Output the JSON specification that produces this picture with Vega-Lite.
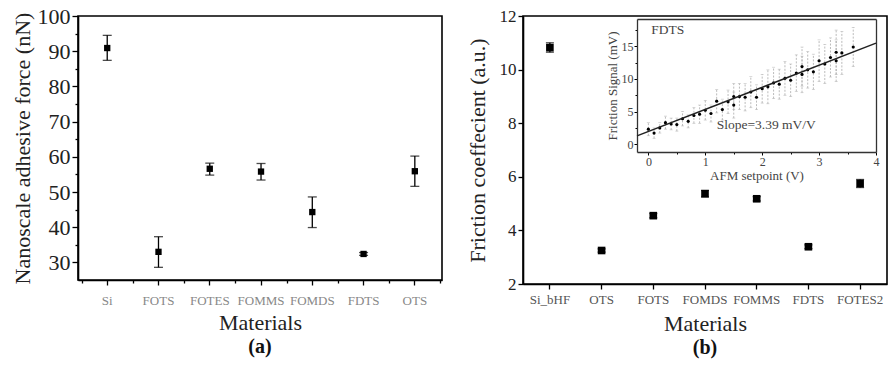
{
  "$schema": "https://vega.github.io/schema/vega-lite/v6.json",
  "padding": {"left": 10, "top": 4, "right": 0, "bottom": 0},
  "bounds": "flush",
  "spacing": 81,
  "background": "white",
  "config": {
    "view": {"stroke": "black", "strokeWidth": 1.6},
    "font": "Liberation Serif",
    "axis": {"domainColor": "black", "domainWidth": 1.6, "tickColor": "black", "tickWidth": 1.3, "grid": false, "labelFont": "Liberation Serif", "titleFont": "Liberation Serif", "titleFontWeight": "normal", "titleColor": "#222", "labelColor": "#222", "labelOverlap": false, "labelBound": false, "labelFlush": false},
    "title": {"font": "Liberation Serif"}
  },
  "datasets": {
    "adhesion": [
      {"material": "Si", "force": 90.9, "lo": 87.4, "hi": 94.5},
      {"material": "FOTS", "force": 33.0, "lo": 28.6, "hi": 37.3},
      {"material": "FOTES", "force": 56.6, "lo": 54.8, "hi": 58.2},
      {"material": "FOMMS", "force": 55.8, "lo": 53.4, "hi": 58.1},
      {"material": "FOMDS", "force": 44.3, "lo": 39.9, "hi": 48.6},
      {"material": "FDTS", "force": 32.4, "lo": 32.0, "hi": 32.8},
      {"material": "OTS", "force": 55.9, "lo": 51.6, "hi": 60.2}
    ],
    "friction": [
      {"material": "Si_bHF", "coef": 10.82, "lo": 10.65, "hi": 11.0},
      {"material": "OTS", "coef": 3.25, "lo": 3.19, "hi": 3.31},
      {"material": "FOTS", "coef": 4.55, "lo": 4.47, "hi": 4.63},
      {"material": "FOMDS", "coef": 5.37, "lo": 5.25, "hi": 5.49},
      {"material": "FOMMS", "coef": 5.18, "lo": 5.1, "hi": 5.26},
      {"material": "FDTS", "coef": 3.39, "lo": 3.32, "hi": 3.46},
      {"material": "FOTES2", "coef": 5.75, "lo": 5.6, "hi": 5.9}
    ],
    "signal": [
      {"setpoint": 0.0, "signal": 2.3, "lo": 1.3, "hi": 3.3},
      {"setpoint": 0.1, "signal": 1.7, "lo": 0.9, "hi": 2.5},
      {"setpoint": 0.2, "signal": 2.5, "lo": 1.7, "hi": 3.3},
      {"setpoint": 0.3, "signal": 3.3, "lo": 2.3, "hi": 4.3},
      {"setpoint": 0.4, "signal": 3.1, "lo": 2.2, "hi": 4.0},
      {"setpoint": 0.5, "signal": 3.0, "lo": 2.0, "hi": 4.0},
      {"setpoint": 0.6, "signal": 3.9, "lo": 2.8, "hi": 5.0},
      {"setpoint": 0.7, "signal": 3.5, "lo": 2.5, "hi": 4.5},
      {"setpoint": 0.8, "signal": 4.4, "lo": 3.2, "hi": 5.6},
      {"setpoint": 0.9, "signal": 4.6, "lo": 3.2, "hi": 6.0},
      {"setpoint": 1.0, "signal": 5.2, "lo": 3.7, "hi": 6.7},
      {"setpoint": 1.1, "signal": 4.7, "lo": 3.4, "hi": 6.0},
      {"setpoint": 1.2, "signal": 6.6, "lo": 4.8, "hi": 8.4},
      {"setpoint": 1.3, "signal": 5.3, "lo": 3.7, "hi": 6.9},
      {"setpoint": 1.4, "signal": 6.5, "lo": 4.7, "hi": 8.3},
      {"setpoint": 1.5, "signal": 6.0, "lo": 4.0, "hi": 8.0},
      {"setpoint": 1.5, "signal": 7.3, "lo": 5.3, "hi": 9.3},
      {"setpoint": 1.6, "signal": 7.3, "lo": 5.3, "hi": 9.3},
      {"setpoint": 1.7, "signal": 7.2, "lo": 5.1, "hi": 9.3},
      {"setpoint": 1.8, "signal": 8.0, "lo": 5.6, "hi": 10.4},
      {"setpoint": 1.9, "signal": 7.2, "lo": 5.3, "hi": 9.1},
      {"setpoint": 2.0, "signal": 8.5, "lo": 6.3, "hi": 10.7},
      {"setpoint": 2.1, "signal": 8.8, "lo": 6.2, "hi": 11.4},
      {"setpoint": 2.2, "signal": 9.4, "lo": 7.0, "hi": 11.8},
      {"setpoint": 2.3, "signal": 9.2, "lo": 6.9, "hi": 11.5},
      {"setpoint": 2.4, "signal": 10.1, "lo": 7.5, "hi": 12.7},
      {"setpoint": 2.5, "signal": 9.8, "lo": 7.3, "hi": 12.3},
      {"setpoint": 2.6, "signal": 10.9, "lo": 8.1, "hi": 13.7},
      {"setpoint": 2.7, "signal": 11.9, "lo": 8.9, "hi": 14.9},
      {"setpoint": 2.7, "signal": 10.7, "lo": 7.9, "hi": 13.5},
      {"setpoint": 2.8, "signal": 11.4, "lo": 8.6, "hi": 14.2},
      {"setpoint": 2.9, "signal": 11.1, "lo": 8.4, "hi": 13.8},
      {"setpoint": 3.0, "signal": 12.8, "lo": 9.6, "hi": 16.0},
      {"setpoint": 3.1, "signal": 12.3, "lo": 9.3, "hi": 15.3},
      {"setpoint": 3.2, "signal": 13.3, "lo": 10.3, "hi": 16.3},
      {"setpoint": 3.3, "signal": 14.1, "lo": 10.7, "hi": 17.5},
      {"setpoint": 3.3, "signal": 12.8, "lo": 9.6, "hi": 16.0},
      {"setpoint": 3.4, "signal": 14.0, "lo": 10.7, "hi": 17.3},
      {"setpoint": 3.6, "signal": 14.9, "lo": 11.9, "hi": 17.9}
    ],
    "fit": [
      {"setpoint": -0.2, "signal": 1.27},
      {"setpoint": 4.0, "signal": 15.5}
    ],
    "notes": [
      {"setpoint": 0.05, "signal": 17.5, "label": "FDTS"},
      {"setpoint": 1.2, "signal": 2.9, "label": "Slope=3.39 mV/V"}
    ]
  },
  "hconcat": [
    {
      "width": 364,
      "height": 264,
      "title": {"text": "(a)", "orient": "bottom", "fontSize": 20, "fontWeight": "bold", "color": "#111", "offset": 4},
      "data": {"name": "adhesion"},
      "layer": [
        {
          "mark": {"type": "errorbar", "color": "black", "thickness": 1.3, "ticks": {"size": 9, "thickness": 1.3, "color": "black"}},
          "encoding": {
            "x": {"field": "material", "type": "nominal", "sort": null,
              "scale": {"type": "band", "paddingInner": 0, "paddingOuter": 0.05, "align": 0.7},
              "axis": {"orient": "bottom", "title": "Materials", "labelAngle": 0, "labelOverlap": false, "tickSize": 5, "labelFontSize": 13, "labelColor": "#888", "labelPadding": 9, "titleFontSize": 22, "titlePadding": 5}},
            "y": {"field": "lo", "type": "quantitative", "title": "Nanoscale adhesive force (nN)",
              "scale": {"domain": [25, 100], "nice": false, "zero": false},
              "axis": {"values": [30, 35, 40, 45, 50, 55, 60, 65, 70, 75, 80, 85, 90, 95, 100],
                "labelOverlap": false,
                "labelExpr": "datum.value % 10 === 0 ? datum.label : ''",
                "tickSize": {"condition": {"test": "datum.value % 10 === 0", "value": 6}, "value": 3},
                "labelFontSize": 22, "labelPadding": 2, "titleFontSize": 22, "titlePadding": 3}},
            "y2": {"field": "hi"}
          }
        },
        {
          "mark": {"type": "square", "size": 40, "color": "black", "opacity": 1, "filled": true},
          "encoding": {
            "x": {"field": "material", "type": "nominal", "sort": null,
              "axis": {"orient": "bottom", "tickBand": "extent", "labels": false, "title": null, "tickSize": 3, "domain": false}},
            "y": {"field": "force", "type": "quantitative", "title": "Nanoscale adhesive force (nN)",
              "axis": {"values": [30, 35, 40, 45, 50, 55, 60, 65, 70, 75, 80, 85, 90, 95, 100],
                "labelOverlap": false,
                "labelExpr": "datum.value % 10 === 0 ? datum.label : ''",
                "tickSize": {"condition": {"test": "datum.value % 10 === 0", "value": 6}, "value": 3},
                "labelFontSize": 22, "labelPadding": 2, "titleFontSize": 22, "titlePadding": 3}}
          }
        }
      ],
      "resolve": {"axis": {"x": "independent"}}
    },
    {
      "width": 364,
      "height": 268,
      "title": {"text": "(b)", "orient": "bottom", "fontSize": 20, "fontWeight": "bold", "color": "#111", "offset": 4},
      "layer": [
        {
          "data": {"name": "friction"},
          "layer": [
            {
              "mark": {"type": "errorbar", "color": "black", "thickness": 1.3, "ticks": {"size": 8, "thickness": 1.3, "color": "black"}},
              "encoding": {
                "x": {"field": "material", "type": "nominal", "sort": null,
                  "scale": {"type": "band", "paddingInner": 0, "paddingOuter": 0.02, "align": 0.5},
                  "axis": {"orient": "bottom", "title": "Materials", "labelAngle": 0, "labelOverlap": false, "tickSize": 5, "labelFontSize": 13, "labelColor": "#555", "labelPadding": 4, "titleFontSize": 22, "titlePadding": 7}},
                "y": {"field": "lo", "type": "quantitative", "title": "Friction coeffecient (a.u.)",
                  "scale": {"domain": [2, 12], "nice": false, "zero": false},
                  "axis": {"values": [2, 3, 4, 5, 6, 7, 8, 9, 10, 11, 12],
                    "labelOverlap": false,
                    "labelExpr": "datum.value % 2 === 0 ? datum.label : ''",
                    "tickSize": {"condition": {"test": "datum.value % 2 === 0", "value": 5}, "value": 3},
                    "labelFontSize": 17, "labelPadding": 2, "titleFontSize": 22, "titlePadding": 10}},
                "y2": {"field": "hi"}
              }
            },
            {
              "mark": {"type": "square", "size": 58, "color": "black", "opacity": 1, "filled": true},
              "encoding": {
                "x": {"field": "material", "type": "nominal", "sort": null},
                "y": {"field": "coef", "type": "quantitative", "title": "Friction coeffecient (a.u.)"}
              }
            }
          ]
        },
        {
          "layer": [
            {
              "data": {"name": "signal"},
              "mark": {"type": "errorbar", "color": "#aaa", "thickness": 0.8, "rule": {"strokeDash": [2, 1.5]}, "ticks": {"size": 3, "color": "#bbb", "thickness": 0.8}},
              "encoding": {
                "x": {"field": "setpoint", "type": "quantitative",
                  "scale": {"domain": [-0.2, 4], "range": [114, 353], "nice": false, "zero": false},
                  "axis": {"orient": "bottom", "offset": -132, "title": "AFM setpoint (V)",
                    "values": [0, 0.5, 1, 1.5, 2, 2.5, 3, 3.5, 4],
                    "labelOverlap": false,
                    "labelExpr": "datum.value % 1 === 0 ? format(datum.value, 'd') : ''",
                    "tickSize": {"condition": {"test": "datum.value % 1 === 0", "value": 3}, "value": 2},
                    "labelFontSize": 12, "labelPadding": 1, "labelColor": "#444", "titleFontSize": 13, "titlePadding": 2, "titleColor": "#444", "domainWidth": 1.3, "domainColor": "#333", "tickWidth": 1}},
                "y": {"field": "lo", "type": "quantitative", "title": "Friction Signal (mV)",
                  "scale": {"domain": [-1.2, 19.2], "range": [136, 3], "nice": false, "zero": false},
                  "axis": {"orient": "left", "offset": -114,
                    "values": [0, 2.5, 5, 7.5, 10, 12.5, 15, 17.5],
                    "labelOverlap": false,
                    "labelExpr": "datum.value % 5 === 0 ? format(datum.value, 'd') : ''",
                    "tickSize": {"condition": {"test": "datum.value % 5 === 0", "value": 3}, "value": 2},
                    "labelFontSize": 12, "labelPadding": 1, "labelColor": "#444", "titleFontSize": 13, "titlePadding": 2, "titleColor": "#444", "domainWidth": 1.3, "domainColor": "#333", "tickWidth": 1}},
                "y2": {"field": "hi"}
              }
            },
            {
              "data": {"name": "signal"},
              "mark": {"type": "circle", "size": 10, "color": "black", "opacity": 1},
              "encoding": {
                "x": {"field": "setpoint", "type": "quantitative",
                  "axis": {"orient": "top", "offset": -3, "labels": false, "ticks": false, "title": null, "domainWidth": 1.3, "domainColor": "#333"}},
                "y": {"field": "signal", "type": "quantitative",
                  "axis": {"orient": "right", "offset": -11, "labels": false, "ticks": false, "title": null, "domainWidth": 1.3, "domainColor": "#333"}}
              }
            },
            {
              "data": {"name": "fit"},
              "mark": {"type": "line", "color": "#222", "strokeWidth": 1.5},
              "encoding": {
                "x": {"field": "setpoint", "type": "quantitative", "axis": null},
                "y": {"field": "signal", "type": "quantitative", "axis": null}
              }
            },
            {
              "data": {"name": "notes"},
              "mark": {"type": "text", "align": "left", "baseline": "middle", "fontSize": 13.5, "color": "#444", "font": "Liberation Serif"},
              "encoding": {
                "x": {"field": "setpoint", "type": "quantitative", "axis": null},
                "y": {"field": "signal", "type": "quantitative", "axis": null},
                "text": {"field": "label"}
              }
            }
          ],
          "resolve": {"axis": {"x": "independent", "y": "independent"}}
        }
      ],
      "resolve": {"scale": {"x": "independent", "y": "independent"}}
    }
  ]
}
